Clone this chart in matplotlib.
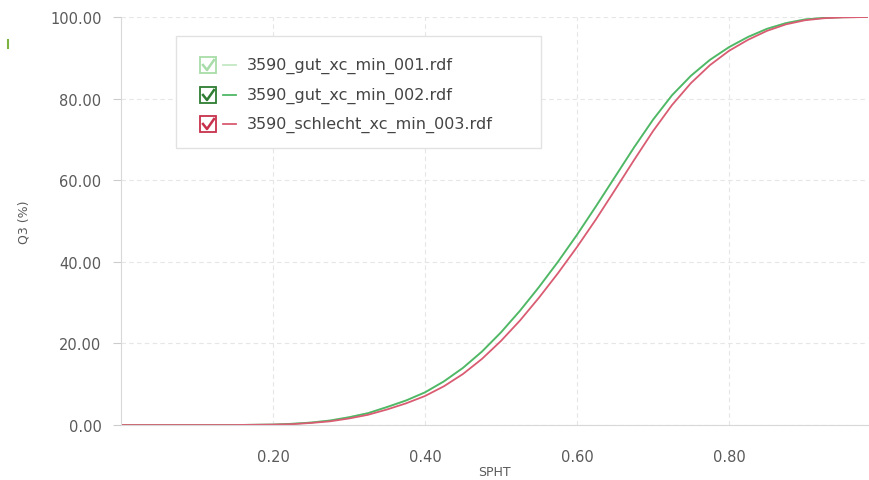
import matplotlib
matplotlib.use("Agg")
import matplotlib.pyplot as plt
from matplotlib.patches import Rectangle
from matplotlib.lines import Line2D

plt.rcParams["font.family"] = ["DejaVu Sans"]

# SPHT values and Q3 (%) for each file
spht = [0.0, 0.15, 0.2, 0.225, 0.25, 0.275, 0.3, 0.325, 0.35, 0.375, 0.4,
        0.425, 0.45, 0.475, 0.5, 0.525, 0.55, 0.575, 0.6, 0.625, 0.65, 0.675,
        0.7, 0.725, 0.75, 0.775, 0.8, 0.825, 0.85, 0.875, 0.9, 0.925, 0.95, 0.983]
q3_001 = [0.0, 0.0, 0.1, 0.3, 0.6, 1.1, 1.9, 2.9, 4.4, 6.0, 8.0, 10.7, 14.0,
          18.0, 22.7, 28.0, 33.8, 40.0, 46.6, 53.6, 60.8, 68.0, 74.8, 80.8,
          85.6, 89.5, 92.6, 95.1, 97.1, 98.5, 99.4, 99.8, 99.95, 100.0]
q3_002 = [0.0, 0.0, 0.1, 0.3, 0.6, 1.1, 1.9, 2.9, 4.4, 6.0, 8.0, 10.7, 14.0,
          18.0, 22.7, 28.0, 33.8, 40.0, 46.6, 53.6, 60.8, 68.0, 74.8, 80.8,
          85.6, 89.5, 92.6, 95.1, 97.1, 98.5, 99.4, 99.8, 99.95, 100.0]
q3_003 = [0.0, 0.0, 0.1, 0.2, 0.5, 0.9, 1.6, 2.5, 3.8, 5.3, 7.1, 9.5, 12.5,
          16.2, 20.6, 25.6, 31.2, 37.2, 43.6, 50.4, 57.6, 64.9, 72.0, 78.4,
          83.8, 88.2, 91.7, 94.4, 96.6, 98.2, 99.2, 99.7, 99.9, 100.0]

labels = ["3590_gut_xc_min_001.rdf", "3590_gut_xc_min_002.rdf",
          "3590_schlecht_xc_min_003.rdf"]
line_colors = ["#c4e8c4", "#4fb866", "#d95c72"]
box_colors = ["#a8dca8", "#2e7d32", "#c8304c"]

W, H = 870, 481
fig = plt.figure(figsize=(W / 100, H / 100), dpi=100)
ax = fig.add_axes([121 / W, 1 - 426 / H, (868 - 121) / W, (426 - 18) / H])

for y, c in zip([q3_001, q3_002, q3_003], line_colors):
    ax.plot(spht, y, color=c, lw=1.3, solid_capstyle="round",
            solid_joinstyle="round")

ax.set_xlim(0, 0.983)
ax.set_ylim(0, 100)
ax.set_xticks([0.2, 0.4, 0.6, 0.8])
ax.set_xticklabels(["0.20", "0.40", "0.60", "0.80"])
ax.set_yticks([0, 20, 40, 60, 80, 100])
ax.set_yticklabels([f"{v:.2f}" for v in [0, 20, 40, 60, 80, 100]])
ax.grid(True, color="#e6e6e6", linestyle=(0, (4, 3)), lw=0.8)
ax.set_axisbelow(True)
for s in ["top", "right"]:
    ax.spines[s].set_visible(False)
for s in ["left", "bottom"]:
    ax.spines[s].set_color("#d8d8d8")
ax.tick_params(axis="y", length=6, color="#cccccc", labelcolor="#5a5a5a",
               labelsize=10.5, pad=8)
ax.tick_params(axis="x", length=0, labelcolor="#5a5a5a", labelsize=10.5, pad=17)
ax.set_ylabel("Q3 (%)", color="#5a5a5a", fontsize=9, labelpad=14)
ax.set_xlabel("SPHT", color="#5a5a5a", fontsize=9, labelpad=1)

# legend drawn by hand: box, check boxes, short line, text
def fx(px):
    return px / W

def fy(py):
    return 1 - py / H

fig.patches.append(Rectangle((fx(176), fy(149)), fx(541) - fx(176), fy(37) - fy(149),
                             transform=fig.transFigure, facecolor="white",
                             edgecolor="#e2e2e2", lw=1.0, zorder=5))
rows = [66, 96, 125]
for r, lab, lc, bc in zip(rows, labels, line_colors, box_colors):
    fig.patches.append(Rectangle((fx(200), fy(r + 8)), fx(216) - fx(200), fy(r - 8) - fy(r + 8),
                                 transform=fig.transFigure, facecolor="white",
                                 edgecolor=bc, lw=1.3, zorder=6))
    fig.lines.append(Line2D([fx(203), fx(207), fx(214)], [fy(r), fy(r + 5), fy(r - 5)],
                            transform=fig.transFigure, color=bc, lw=1.8, zorder=7))
    fig.lines.append(Line2D([fx(223), fx(236)], [fy(r), fy(r)],
                            transform=fig.transFigure, color=lc, lw=1.3, zorder=7))
    fig.text(fx(247), fy(r), lab, ha="left", va="center", fontsize=11.5,
             color="#444444", zorder=7)

# small green mark at the top-left edge
fig.lines.append(Line2D([fx(8), fx(8)], [fy(41), fy(49)], transform=fig.transFigure,
                        color="#7cb342", lw=1.5))

fig.savefig("out.png", dpi=100)
